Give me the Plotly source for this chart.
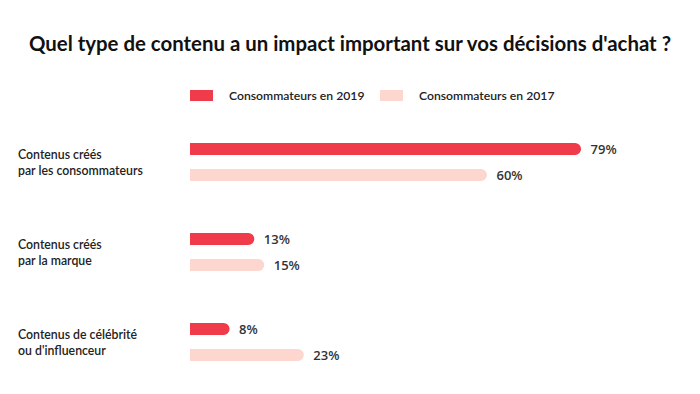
import plotly.graph_objects as go

categories = ["Contenus créés<br>par les consommateurs",
              "Contenus créés<br>par la marque",
              "Contenus de célébrité<br>ou d'influenceur"]
series_names = ["Consommateurs en 2019", "Consommateurs en 2017"]
values_2019 = [79, 13, 8]
values_2017 = [60, 15, 23]
title_text = "Quel type de contenu a un impact important sur vos décisions d'achat ?"

colors = ["#EF3B4A", "#FDD7CF"]
ykeys = ["c0", "c1", "c2"]

fig = go.Figure()
for name, vals, col in zip(series_names, [values_2019, values_2017], colors):
    fig.add_trace(go.Bar(
        x=vals, y=ykeys, orientation="h", name=name,
        marker=dict(color=col, cornerradius=6, line=dict(width=0)),
        text=[f"\u2002{v}%" for v in vals], textposition="outside", constraintext="none",
        textfont=dict(family="Open Sans", size=13, color="#333333", weight=600),
        cliponaxis=False, hoverinfo="skip",
    ))

for key, lab in zip(ykeys, categories):
    fig.add_annotation(x=-0.352, xref="paper", y=key, yref="y", text=lab,
                       showarrow=False, xanchor="left", yanchor="middle", align="left",
                       font=dict(family="Lato", size=12.3, color="#222222", weight=600))

# legend drawn as layout decorations
leg_x = [0.0, 0.3838]
for name, col, lx in zip(series_names, colors, leg_x):
    fig.add_shape(type="rect", xref="paper", yref="paper", x0=lx, x1=lx + 0.0465,
                  y0=1.0593, y1=1.1, fillcolor=col, line=dict(width=0))
    fig.add_annotation(x=lx + 0.0747, xref="paper", y=1.0778, yref="paper", text=name,
                       showarrow=False, xanchor="left", yanchor="middle",
                       font=dict(family="Lato", size=12.2, color="#222222", weight=600))

fig.update_layout(
    width=700, height=394,
    margin=dict(l=190, r=15, t=117, b=7),
    paper_bgcolor="white", plot_bgcolor="white",
    barmode="group", bargap=0.42, bargroupgap=0.54,
    title=dict(text=title_text, x=0.5, xanchor="center", y=0.888, yanchor="middle",
               xref="container", yref="container",
               font=dict(family="Lato", size=20.4, color="#111111", weight="bold")),
    xaxis=dict(range=[0, 100], visible=False, fixedrange=True),
    yaxis=dict(autorange="reversed", visible=False, fixedrange=True),
    showlegend=False,
)
fig.write_html("out.html", post_script="document.body.style.margin='0';",
               config={"displayModeBar": False})
